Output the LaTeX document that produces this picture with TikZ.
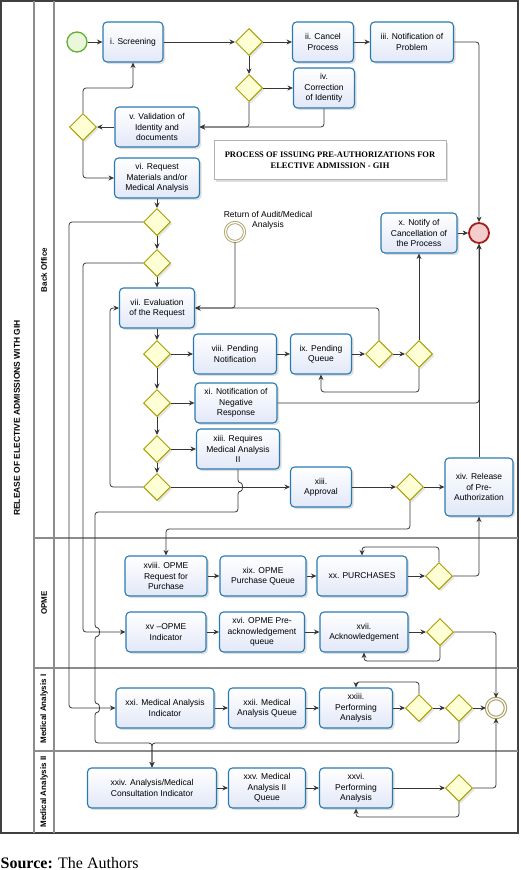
\documentclass[tikz,border=0pt]{standalone}
\usepackage{fontspec}
\setsansfont{Liberation Sans}
\newfontfamily\serifTNR{Liberation Serif}
\usepackage{tikz}
\newcommand{\taskheight}{40pt}
\newcommand{\gatesize}{27pt}
\definecolor{taskBlue}{RGB}{42,122,176}
\definecolor{taskFill}{RGB}{226,232,248}
\definecolor{gateOlive}{RGB}{168,158,0}
\definecolor{gateFill}{RGB}{255,255,214}
\definecolor{startGreen}{RGB}{96,176,48}
\definecolor{startFill}{RGB}{234,247,218}
\definecolor{endRed}{RGB}{164,28,28}
\definecolor{endFill}{RGB}{244,204,204}
\definecolor{evOlive}{RGB}{170,158,96}
\definecolor{flowGray}{RGB}{55,55,55}
\definecolor{laneGray}{RGB}{140,140,140}
\usetikzlibrary{arrows.meta,positioning,shapes.geometric,shadows}
\tikzset{
  >={Stealth[length=5.5pt,width=5pt]},
  font=\sffamily\fontsize{8.5}{10.3}\selectfont,
  task/.style={draw=taskBlue,line width=1.1pt,rounded corners=4pt,top color=white,bottom color=taskFill,minimum height=\taskheight,inner sep=2pt,align=center,drop shadow={opacity=0.25,shadow xshift=2pt,shadow yshift=-2pt}},
  gate/.style={draw=gateOlive,line width=1pt,shape=diamond,fill=gateFill,minimum size=\gatesize,inner sep=0,drop shadow={opacity=0.2,shadow xshift=2pt,shadow yshift=-2pt}},
  startev/.style={draw=startGreen,line width=1.3pt,shape=circle,fill=startFill,minimum size=20pt,inner sep=0},
  endev/.style={draw=endRed,line width=1.8pt,shape=circle,fill=endFill,minimum size=20pt,inner sep=0},
  midev/.style={draw=evOlive,line width=0.9pt,double=white,double distance=1.3pt,shape=circle,fill=white,minimum size=19pt,inner sep=0},
  line/.style={draw=flowGray,->,line width=0.8pt,rounded corners=3pt},
  pool/.style={draw=black!75,line width=1.3pt},
  lane/.style={draw=laneGray,line width=1.2pt},
  pooltitle/.style={rotate=90,font=\sffamily\bfseries\fontsize{8.5}{10}\selectfont},
  lanetitle/.style={rotate=90,font=\sffamily\bfseries\fontsize{8}{9.6}\selectfont},
  titlebox/.style={draw=black!30,fill=white,minimum width=232pt,minimum height=39pt,align=center,font=\serifTNR\bfseries\fontsize{8.5}{10.5}\selectfont,drop shadow={opacity=0.25,shadow xshift=2pt,shadow yshift=-2pt}},
}

\begin{document}
\begin{tikzpicture}[x=1pt,y=-1pt]
  \useasboundingbox (0,0) rectangle (520,870);
  % pool and lanes
  \draw [pool] (1,1) rectangle (518,833);
  \draw [lane] (34,1) -- (34,833);
  \draw [lane] (54,1) -- (54,833);
  \draw [lane] (34,538) -- (518,538);
  \draw [lane] (34,668) -- (518,668);
  \draw [lane] (34,751) -- (518,751);
  \node (pool) [pooltitle] at (17,418) {RELEASE OF ELECTIVE ADMISSIONS WITH GIH};
  \node (bo) [lanetitle] at (44,270) {Back Office};
  \node (op) [lanetitle] at (44,603) {OPME};
  \node (m1) [lanetitle] at (44,709) {Medical Analysis I};
  \node (m2) [lanetitle] at (44,792) {Medical Analysis II};
  \node (title) [titlebox] at (330,160) {PROCESS OF ISSUING PRE-AUTHORIZATIONS FOR\\ELECTIVE ADMISSION - GIH};

  % back office
  \node (start) [startev] at (77,42) {};
  \node (scr) [task,minimum width=60pt] at (133,42) {i. Screening};
  \node (g1) [gate] at (249,42) {};
  \node (canc) [task,minimum width=61pt] at (323,42) {ii. Cancel\\Process};
  \node (notp) [task,minimum width=83pt] at (412,42) {iii. Notification of\\Problem};
  \node (g2) [gate] at (249,88) {};
  \node (corr) [task,minimum width=61pt] at (324,88) {iv.\\Correction\\of Identity};
  \node (valid) [task,minimum width=84pt] at (157,127) {v. Validation of\\Identity and\\documents};
  \node (g3) [gate] at (83,127) {};
  \node (req) [task,minimum width=85pt] at (157,178) {vi. Request\\Materials and/or\\Medical Analysis};
  \node (g4) [gate] at (157,222) {};
  \node (g5) [gate] at (157,263) {};
  \node (ret) [midev] at (235,232) {};
  \node (retlbl) [align=center] at (268,220) {Return of Audit/Medical\\Analysis};
  \node (eval) [task,minimum width=75pt] at (157,308) {vii. Evaluation\\of the Request};
  \node (g6) [gate] at (157,354) {};
  \node (pnot) [task,minimum width=83pt] at (235,354) {viii. Pending\\Notification};
  \node (pq) [task,minimum width=61pt] at (321,354) {ix. Pending\\Queue};
  \node (gp1) [gate] at (379,354) {};
  \node (gp2) [gate] at (419,354) {};
  \node (ncan) [task,minimum width=76pt] at (419,233) {x. Notify of\\Cancellation of\\the Process};
  \node (endr) [endev] at (479,233) {};
  \node (g7) [gate] at (157,403) {};
  \node (neg) [task,minimum width=82pt] at (236,403) {xi. Notification of\\Negative\\Response};
  \node (g8) [gate] at (157,449) {};
  \node (reqm) [task,minimum width=83pt] at (238,449) {xiii. Requires\\Medical Analysis\\II};
  \node (g9) [gate] at (157,487) {};
  \node (appr) [task,minimum width=61pt] at (321,487) {xiii.\\Approval};
  \node (gA) [gate] at (410,487) {};
  \node (rel) [task,minimum width=68pt,minimum height=58pt] at (479,487) {xiv. Release\\of Pre-\\Authorization};

  % OPME
  \node (oreq) [task,minimum width=82pt] at (166,576) {xviii. OPME\\Request for\\Purchase};
  \node (oque) [task,minimum width=86pt] at (263,576) {xix. OPME\\Purchase Queue};
  \node (purch) [task,minimum width=90pt] at (362,576) {xx. PURCHASES};
  \node (gO1) [gate] at (439,576) {};
  \node (oind) [task,minimum width=80pt] at (166,632) {xv –OPME\\Indicator};
  \node (opre) [task,minimum width=85pt] at (262,632) {xvi. OPME Pre-\\acknowledgement\\queue};
  \node (ack) [task,minimum width=88pt] at (364,632) {xvii.\\Acknowledgement};
  \node (gO2) [gate] at (440,632) {};

  % medical analysis I
  \node (mai) [task,minimum width=98pt] at (165,708) {xxi. Medical Analysis\\Indicator};
  \node (maq) [task,minimum width=77pt] at (267,708) {xxii. Medical\\Analysis Queue};
  \node (perf1) [task,minimum width=73pt] at (356,708) {xxiii.\\Performing\\Analysis};
  \node (gM1) [gate] at (419,708) {};
  \node (gM2) [gate] at (459,708) {};
  \node (endg) [midev,line width=1.1pt] at (496,708) {};

  % medical analysis II
  \node (ainf) [task,minimum width=129pt] at (152,788) {xxiv. Analysis/Medical\\Consultation Indicator};
  \node (ma2q) [task,minimum width=77pt] at (267,788) {xxv. Medical\\Analysis II\\Queue};
  \node (perf2) [task,minimum width=73pt] at (356,788) {xxvi.\\Performing\\Analysis};
  \node (gM3) [gate] at (459,788) {};

  \node (src) [anchor=base west,inner sep=0,font=\serifTNR\fontsize{16}{19}\selectfont] at (0.5,868) {\textbf{Source:} The Authors};

  % flows, back office
  \path [line] (start) -- (scr);
  \path [line] (scr) -- (g1);
  \path [line] (g1) -- (canc);
  \path [line] (canc) -- (notp);
  \path [line] (notp.east) -| (endr.north);
  \path [line] (g1) -- (g2);
  \path [line] (g2) -- (corr);
  \path [line] (g2.south) |- (valid.east);
  \path [line] (corr.south) |- (valid.east);
  \path [line] (valid) -- (g3);
  \path [line] (g3.north) |- (133,88) -- (scr.south);
  \path [line] (g3.south) |- (req.west);
  \path [line] (req) -- (g4);
  \path [line] (g4) -- (g5);
  \path [line] (g5) -- (eval);
  \path [line] (eval) -- (g6);
  \path [line] (g6) -- (pnot);
  \path [line] (pnot) -- (pq);
  \path [line] (pq) -- (gp1);
  \path [line] (gp1) -- (gp2);
  \path [line] (gp1.north) |- (eval.east);
  \path [line] (ret.south) |- (eval.east);
  \path [line] (gp2.north) -- (ncan.south);
  \path [line] (gp2.south) -- (419,392) -| (pq.south);
  \path [line] (ncan) -- (endr);
  \path [line] (g6) -- (g7);
  \path [line] (g7) -- (neg);
  \path [line] (neg.east) -| (endr.south);
  \path [line] (rel.north) -- (endr.south);
  \path [line] (g7) -- (g8);
  \path [line] (g8) -- (reqm);
  \path [line] (g8) -- (g9);
  \path [line] (g9) -- (appr);
  \path [line] (g9.west) -| (110,400) |- (eval.west);
  \path [line] (appr) -- (gA);
  \path [line] (gA) -- (rel);
  \path [line] (gA.south) -- (410,529) -| (oreq.north);
  % flows down to the other lanes
  \path [line] (g4.west) -| (69,600) |- (mai.west);
  \path [line] (g5.west) -| (83,600) |- (oind.west);
  \path [line] (reqm.south) -- (238,483) .. controls (243,483) and (243,491) .. (238,491) -- (238,512) -- (95,512)
    -- (95,628) .. controls (100,628) and (100,636) .. (95,636)
    -- (95,704) .. controls (100,704) and (100,712) .. (95,712) -- (95,743) -| (ainf.north);
  % flows, OPME
  \path [line] (oreq) -- (oque);
  \path [line] (oque) -- (purch);
  \path [line] (purch) -- (gO1);
  \path [line] (gO1.north) -- (439,547) -| (purch.north);
  \path [line] (gO1.east) -| (rel.south);
  \path [line] (oind) -- (opre);
  \path [line] (opre) -- (ack);
  \path [line] (ack) -- (gO2);
  \path [line] (gO2.south) -- (440,661) -| (ack.south);
  \path [line] (gO2.east) -| (endg.north);
  % flows, medical analysis
  \path [line] (mai) -- (maq);
  \path [line] (maq) -- (perf1);
  \path [line] (perf1) -- (gM1);
  \path [line] (gM1.north) -- (419,682) -| (perf1.north);
  \path [line] (gM1) -- (gM2);
  \path [line] (gM2) -- (endg);
  \path [line] (gM2.south) -- (459,743) -| (ainf.north);
  \path [line] (ainf) -- (ma2q);
  \path [line] (ma2q) -- (perf2);
  \path [line] (perf2) -- (gM3);
  \path [line] (gM3.south) -- (459,817) -| (perf2.south);
  \path [line] (gM3.east) -| (endg.south);
\end{tikzpicture}
\end{document}
